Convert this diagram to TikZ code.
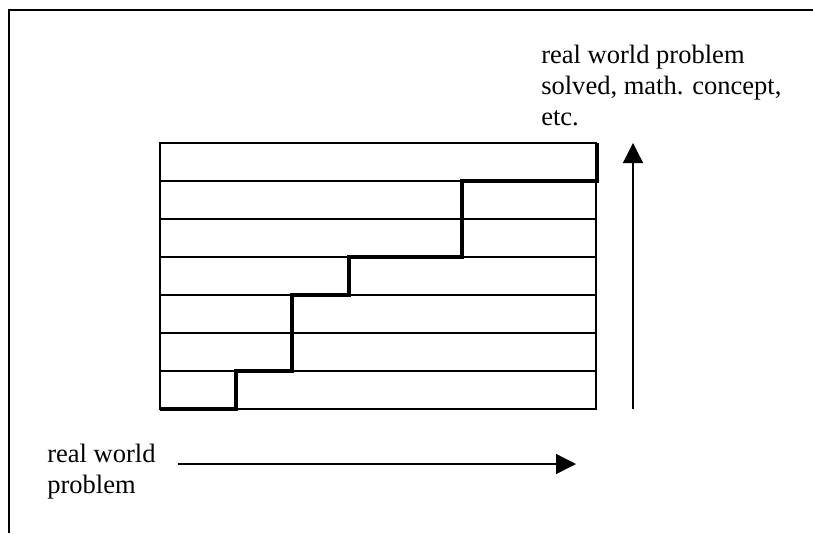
\documentclass[tikz,border=0pt]{standalone}
\usepackage{fontspec}
\setmainfont{Liberation Serif}
\usetikzlibrary{arrows.meta}
\begin{document}
\begin{tikzpicture}[x=0.75pt,y=-0.75pt,
  frameline/.style={line width=0.9pt},
  gridline/.style={line width=0.9pt},
  stairline/.style={line width=3.5pt,line cap=butt,line join=miter},
  bigarrow/.style={line width=1pt,-{Triangle[length=15pt,width=15pt]}},
  label/.style={inner sep=0pt,align=left,font=\fontsize{19.9}{23}\selectfont}]
\useasboundingbox (0,0) rectangle (813,533);
% frame (top and left edges only)
\coordinate (fl) at (9,533);
\coordinate (fc) at (9,10);
\coordinate (fr) at (813,10);
\draw[frameline] (fl) -- (fc) -- (fr);
% grid of rows
\coordinate (gtl) at (160,143);
\coordinate (gbr) at (596,409);
\draw[gridline, line width=1.2pt] (gtl) rectangle (gbr);
\foreach \y in {181,219,257,295,333,371} {
  \draw[gridline] (160,\y) -- (596,\y);
}
% staircase
\coordinate (s0) at (160,409);
\coordinate (s1) at (236,409);
\coordinate (s2) at (236,371);
\coordinate (s3) at (292,371);
\coordinate (s4) at (292,295);
\coordinate (s5) at (349,295);
\coordinate (s6) at (349,257);
\coordinate (s7) at (462,257);
\coordinate (s8) at (462,181);
\coordinate (s9) at (597,181);
\coordinate (s10) at (597,143);
\draw[stairline] (s0) -- (s1) -- (s2) -- (s3) -- (s4) -- (s5) -- (s6) -- (s7) -- (s8) -- (s9) -- (s10);
% arrows
\coordinate (va0) at (633,409);
\coordinate (va1) at (633,143);
\draw[bigarrow] (va0) -- (va1);
\coordinate (ha0) at (178,464);
\coordinate (ha1) at (576,464);
\draw[bigarrow] (ha0) -- (ha1);
% labels
\node[label,anchor=north west] (top) at (541,45) {real world problem\\solved, math. concept,\\etc.};
\node[label,anchor=north west] (start) at (47,444) {real world\\problem};
\end{tikzpicture}
\end{document}
